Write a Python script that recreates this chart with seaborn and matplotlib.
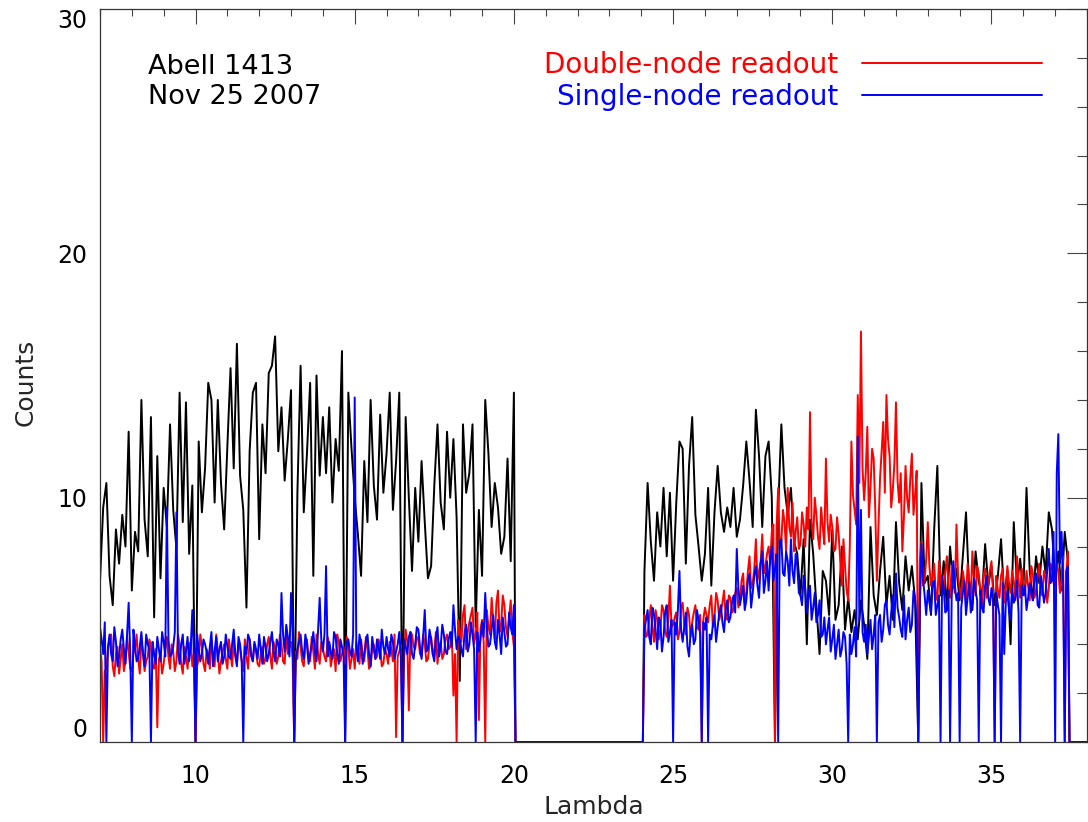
import numpy as np
import pandas as pd
import matplotlib
matplotlib.use("Agg")
import matplotlib.pyplot as plt
from matplotlib.ticker import MultipleLocator
import seaborn as sns

# ---------------- data ----------------
lam_left = np.round(np.arange(7.0, 20.05, 0.1), 2)        # 7.0 .. 20.0
lam_right = np.round(np.arange(24.1, 37.45, 0.1), 2)      # 24.1 .. 37.4
lam_left_mid = np.round(np.arange(7.05, 20.0, 0.1), 2)    # 7.05 .. 19.95
lam_right_mid = np.round(np.arange(24.15, 37.4, 0.1), 2)  # 24.15 .. 37.35
gap_lam = [20.05, 24.05]
gap_counts = [0.0, 0.0]
tail_lam = [37.45, 38.0]
tail_counts = [0.0, 0.0]

black_left = [
    6.6, 9.6, 10.6, 6.8, 5.6, 8.7, 7.3, 9.3, 8.0, 12.7,
    6.2, 8.6, 7.8, 14.0, 9.1, 7.6, 13.3, 5.1, 11.7, 6.7,
    10.4, 8.8, 13.0, 9.5, 7.9, 14.3, 9.0, 13.9, 7.7, 10.5,
    0.0, 12.3, 9.4, 11.2, 14.7, 14.0, 9.8, 14.0, 10.6, 8.7,
    12.1, 15.3, 11.2, 16.3, 10.9, 9.5, 5.5, 11.9, 14.3, 14.7,
    8.3, 13.0, 11.0, 15.1, 15.4, 16.6, 11.9, 13.7, 10.7, 12.4,
    14.4, 0.0, 10.2, 15.4, 9.4, 11.8, 14.7, 6.8, 15.0, 10.9,
    13.3, 11.0, 13.7, 9.8, 12.4, 11.1, 16.0, 0.0, 14.3, 12.0,
    10.0, 8.5, 6.8, 11.5, 9.0, 14.0, 10.5, 9.1, 13.4, 10.2,
    11.8, 14.3, 9.5, 11.5, 14.3, 0.0, 13.3, 10.0, 7.0, 10.4,
    8.2, 11.5, 9.0, 6.7, 7.2, 10.5, 13.0, 9.8, 8.7, 12.7,
    10.0, 12.4, 9.2, 2.5, 13.0, 10.2, 11.0, 13.0, 4.7, 9.5,
    6.8, 14.0, 11.8, 8.8, 10.6, 9.6, 7.7, 8.4, 11.6, 7.4,
    14.3,
]
red_left = [
    3.9, 0.0, 3.0, 4.2, 3.1, 3.6, 2.8, 4.0, 3.3, 3.7,
    2.9, 3.8, 3.4, 4.1, 2.9, 3.5, 3.9, 3.0, 0.6, 3.6,
    3.2, 4.3, 3.0, 3.7, 3.3, 4.0, 2.8, 3.5, 3.9, 3.1,
    0.0, 3.4, 3.9, 2.9, 3.6, 4.2, 3.1, 3.7, 3.3, 4.0,
    3.0, 3.6, 4.1, 3.2, 3.8, 2.9, 3.5, 4.2, 3.3, 3.7,
    3.1, 3.9, 3.4, 4.3, 3.0, 3.8, 3.5, 4.0, 3.2, 3.6,
    4.1, 0.0, 3.4, 3.9, 3.1, 4.2, 3.3, 3.7, 4.4, 3.2,
    3.8, 3.3, 4.0, 3.5, 2.9, 4.1, 3.6, 3.2, 3.9, 3.4,
    3.0, 3.7, 4.2, 3.3, 3.8, 3.1, 4.0, 3.5, 3.9, 3.2,
    3.6, 4.1, 3.3, 0.2, 3.7, 0.0, 4.6, 1.3, 4.4, 3.8,
    4.2, 3.5, 4.0, 3.4, 4.3, 3.7, 3.2, 4.1, 3.6, 4.4,
    3.9, 1.9, 0.0, 4.6, 5.2, 3.8, 4.9, 5.5, 4.4, 0.9,
    5.0, 0.0, 4.7, 5.9, 4.2, 6.2, 4.8, 5.6, 4.3, 5.8,
    3.9,
]
red_left_mid = [
    3.3, 2.9, 3.8, 4.4, 2.7, 3.9, 3.4, 2.9, 4.3, 3.0,
    3.6, 4.4, 2.8, 3.7, 3.3, 4.2, 3.1, 3.8, 3.4, 2.8,
    3.8, 3.5, 4.0, 2.9, 4.4, 3.2, 3.9, 3.0, 4.1, 3.6,
    3.1, 4.4, 3.2, 3.8, 3.0, 3.5, 4.4, 2.8, 3.7, 3.4,
    4.2, 3.1, 3.5, 4.0, 3.3, 4.2, 3.0, 3.6, 4.0, 3.2,
    3.6, 3.2, 4.0, 3.5, 4.1, 3.2, 4.4, 3.3, 4.5, 3.9,
    3.4, 3.7, 4.5, 3.3, 3.9, 3.5, 4.3, 3.0, 3.6, 4.1,
    3.5, 4.3, 3.1, 3.8, 4.4, 3.3, 3.9, 4.3, 3.0, 3.8,
    4.1, 3.2, 3.6, 4.3, 3.0, 3.8, 3.4, 4.2, 3.1, 3.8,
    3.2, 3.8, 4.4, 3.5, 4.0, 3.4, 4.1, 4.5, 3.9, 4.3,
    3.6, 4.4, 3.3, 4.0, 3.6, 4.5, 3.9, 3.4, 4.2, 3.8,
    4.5, 3.6, 5.0, 4.1, 5.6, 4.5, 5.2, 4.0, 5.3, 4.6,
    4.1, 5.4, 4.4, 5.0, 5.7, 4.5, 6.0, 4.7, 5.1, 4.5,
]
blue_left = [
    4.7, 3.6, 0.0, 4.4, 3.3, 4.1, 3.5, 4.6, 3.2, 5.7,
    0.0, 3.9, 3.4, 4.5, 3.1, 4.0, 0.0, 3.6, 4.3, 3.3,
    4.1, 9.6, 3.5, 3.9, 9.4, 3.2, 4.4, 3.7, 3.3, 5.4,
    0.0, 3.8, 3.6, 4.0, 3.2, 4.5, 3.7, 3.3, 4.1, 3.5,
    3.9, 3.4, 4.6, 3.1, 4.0, 0.0, 3.6, 4.2, 3.3, 3.8,
    4.4, 3.2, 3.9, 3.6, 4.5, 3.3, 4.0, 6.1, 3.7, 4.3,
    6.1, 0.0, 3.8, 4.4, 3.4, 4.0, 3.6, 4.5, 3.3, 5.9,
    3.7, 7.2, 4.1, 3.4, 4.3, 3.2, 3.9, 0.0, 4.2, 3.5,
    14.1, 3.3, 4.0, 3.6, 4.4, 3.1, 3.8, 4.2, 3.4, 3.9,
    4.3, 3.5, 4.1, 3.7, 4.5, 0.0, 3.9, 4.3, 3.6, 4.0,
    4.6, 3.4, 5.4, 3.8, 4.2, 3.3, 4.7, 3.9, 4.4, 3.6,
    4.5, 5.6, 3.8, 4.2, 3.5, 4.8, 4.0, 4.4, 0.0, 3.7,
    4.9, 6.1, 3.9, 4.6, 4.1, 5.0, 3.6, 4.5, 4.0, 4.7,
    5.6,
]
blue_left_mid = [
    4.2, 4.9, 3.9, 3.6, 4.7, 3.1, 4.2, 3.8, 4.4, 3.6,
    4.6, 3.3, 3.9, 3.6, 4.4, 3.8, 4.1, 3.2, 3.8, 4.5,
    3.5, 4.2, 3.6, 4.5, 3.7, 4.0, 3.2, 4.3, 3.9, 3.6,
    4.4, 3.3, 4.2, 3.7, 3.9, 3.1, 4.3, 3.8, 3.2, 4.4,
    3.5, 4.0, 3.6, 4.3, 3.3, 3.9, 4.4, 3.5, 4.1, 3.4,
    3.8, 4.3, 3.3, 4.1, 3.7, 4.2, 3.5, 4.4, 4.8, 3.5,
    4.5, 3.4, 4.1, 3.7, 4.4, 3.2, 4.0, 3.7, 4.6, 4.2,
    4.4, 3.5, 3.7, 4.5, 3.6, 4.2, 3.5, 4.1, 3.7, 4.4,
    3.9, 4.4, 3.2, 4.1, 3.6, 4.3, 3.4, 3.9, 4.6, 3.6,
    3.8, 4.4, 3.4, 4.0, 3.5, 4.2, 3.6, 4.5, 3.4, 4.7,
    3.9, 4.3, 3.7, 4.6, 3.6, 4.3, 3.5, 4.8, 3.7, 4.2,
    3.9, 4.6, 4.3, 3.8, 4.5, 3.7, 4.9, 3.8, 4.5, 4.2,
    4.3, 4.7, 4.0, 5.2, 3.8, 4.4, 5.1, 3.9, 5.3, 4.4,
]

black_right = [
    7.0, 10.6, 8.2, 6.6, 9.4, 8.0, 10.4, 7.6, 10.2,
    6.6, 9.8, 12.3, 12.0, 7.3, 11.3, 13.3, 9.3, 8.0, 6.6,
    7.7, 10.4, 6.4, 9.4, 11.3, 9.4, 8.6, 9.6, 8.8, 10.4,
    8.4, 9.1, 10.5, 12.3, 10.7, 8.8, 13.6, 11.7, 8.8, 11.7,
    12.3, 10.0, 0.0, 9.5, 13.0, 10.4, 9.3, 10.4, 8.2, 7.7,
    6.0, 8.3, 4.0, 9.1, 7.7, 5.6, 3.6, 7.0, 6.6, 5.2,
    8.7, 5.0, 5.6, 8.0, 4.6, 5.9, 4.5, 5.4, 4.2, 5.8,
    4.8, 3.4, 8.8, 6.0, 5.2, 7.0, 8.4, 5.6, 6.8, 5.0,
    9.0, 6.5, 5.4, 7.6, 6.2, 7.2, 5.8, 0.0, 10.6, 6.5,
    6.8, 5.2, 8.7, 11.3, 6.0, 7.4, 5.5, 8.0, 6.3, 7.1,
    5.8, 7.6, 9.4, 6.2, 5.4, 7.8, 6.6, 5.9, 8.1, 6.4,
    7.2, 5.6, 6.8, 8.3, 5.9, 7.0, 4.0, 9.0, 6.4, 7.5,
    6.1, 10.4, 7.0, 5.8, 7.6, 6.5, 8.0, 6.9, 9.4, 8.7,
    6.6, 7.8, 6.2, 8.6, 7.4,
]
red_right = [
    5.2, 4.4, 5.6, 4.1, 5.0, 4.6, 5.4, 4.3, 6.4,
    4.8, 5.3, 4.5, 5.7, 4.4, 5.2, 4.9, 5.6, 4.6, 0.0,
    5.5, 4.9, 6.0, 5.1, 5.8, 5.3, 6.2, 5.0, 5.9, 5.4,
    6.3, 5.8, 6.9, 6.1, 7.6, 6.5, 8.3, 7.0, 8.5, 7.2,
    8.0, 8.6, 0.0, 10.4, 8.2, 9.0, 10.4, 8.4, 7.8, 9.2,
    8.1, 8.9, 9.6, 13.5, 8.3, 9.3, 7.9, 8.8, 11.6, 8.2,
    8.8, 7.9, 8.5, 6.4, 7.2, 5.8, 12.3, 9.5, 14.2, 16.8,
    9.9, 12.9, 10.4, 11.6, 6.6, 10.8, 13.1, 14.2, 11.7, 10.3,
    13.9, 9.8, 7.8, 11.3, 9.4, 11.8, 10.1, 0.0, 8.2, 6.6,
    9.0, 6.4, 7.3, 5.8, 6.9, 6.2, 7.6, 5.9, 6.7, 8.9,
    6.3, 7.0, 5.7, 6.6, 7.8, 6.0, 6.9, 5.6, 7.1, 6.4,
    7.4, 0.0, 6.2, 6.8, 5.7, 7.2, 6.1, 6.6, 7.6, 5.9,
    6.5, 7.0, 5.8, 6.9, 6.2, 7.3, 6.0, 6.7, 6.3, 7.1,
    6.4, 7.0, 6.6, 0.0, 7.8,
]
red_right_mid = [
    4.3, 5.0, 4.7, 5.4, 4.2, 5.6, 4.5, 5.0, 4.7,
    5.1, 4.2, 5.5, 4.8, 5.5, 4.3, 5.3, 4.7, 5.2, 5.0,
    5.2, 5.6, 4.7, 6.1, 5.0, 5.7, 5.2, 6.0, 5.3, 6.1,
    5.5, 6.6, 5.7, 7.0, 6.3, 7.1, 6.6, 7.4, 6.9, 7.7,
    7.3, 8.9, 8.8, 8.0, 9.5, 7.8, 8.8, 9.8, 8.6, 7.9,
    9.4, 8.0, 8.7, 9.0, 10.0, 8.4, 9.6, 8.1, 9.0, 9.3,
    7.8, 9.2, 7.4, 8.3, 6.2, 8.0, 10.1, 8.9, 10.6, 11.2,
    11.0, 9.2, 12.0, 9.5, 8.8, 11.9, 10.2, 12.4, 9.6, 11.4,
    10.7, 11.0, 9.2, 10.0, 10.8, 9.3, 11.1, 7.4, 6.4, 7.5,
    7.2, 6.7, 6.1, 7.4, 6.0, 7.0, 6.3, 7.2, 6.1, 6.8,
    5.9, 6.5, 7.3, 5.8, 6.7, 7.2, 6.2, 6.8, 5.9, 7.0,
    6.1, 6.8, 5.9, 7.1, 6.3, 6.5, 7.0, 5.8, 6.6, 7.1,
    6.0, 6.4, 7.2, 5.9, 6.8, 6.1, 7.0, 5.7, 7.3, 6.5,
    7.3, 6.1, 7.6, 6.9,
]
blue_right = [
    4.6, 5.4, 4.0, 5.2, 3.8, 4.9, 4.3, 5.6, 4.5,
    0.0, 4.4, 7.0, 4.1, 5.3, 3.5, 4.8, 4.2, 5.0, 0.0,
    4.6, 0.0, 4.2, 5.2, 4.7, 5.6, 4.5, 5.8, 5.1, 6.0,
    7.9, 5.6, 6.4, 5.8, 6.9, 6.1, 7.2, 5.9, 7.8, 6.6,
    6.2, 8.0, 7.1, 0.0, 8.3, 6.8, 7.4, 8.3, 6.5, 7.2,
    6.0, 6.8, 5.3, 6.4, 5.5, 4.9, 5.8, 4.4, 4.0, 5.1,
    4.2, 3.4, 4.6, 3.8, 4.3, 0.0, 3.6, 4.7, 12.5, 9.5,
    4.1, 3.6, 5.0, 4.4, 0.0, 5.2, 4.6, 5.8, 4.4, 6.0,
    6.9, 5.1, 4.3, 4.2, 5.5, 4.8, 5.9, 0.0, 8.1, 6.0,
    6.2, 5.3, 6.6, 5.6, 0.0, 6.3, 5.4, 0.0, 7.4, 5.8,
    0.0, 6.1, 5.2, 6.5, 5.7, 6.2, 0.0, 5.5, 6.4, 5.9,
    6.3, 0.0, 5.6, 0.0, 3.6, 6.2, 5.0, 5.7, 6.6, 0.0,
    6.0, 5.4, 6.5, 5.8, 6.9, 5.5, 6.3, 6.1, 7.9, 6.6,
    0.0, 12.6, 8.6, 0.0, 7.2,
]
blue_right_mid = [
    5.0, 4.3, 5.5, 4.6, 5.1, 3.7, 5.3, 4.1, 5.0,
    4.9, 5.4, 4.6, 4.7, 3.9, 4.5, 4.0, 5.4, 4.4, 4.9,
    5.1, 4.4, 4.8, 4.1, 5.3, 4.9, 5.4, 4.9, 5.7, 5.3,
    6.3, 6.0, 5.4, 6.6, 5.5, 6.8, 6.4, 7.3, 6.1, 7.4,
    7.5, 6.6, 7.7, 8.2, 6.9, 7.8, 6.4, 7.0, 7.7, 6.1,
    5.6, 6.3, 5.9, 5.0, 6.1, 5.2, 4.3, 5.1, 4.6, 3.7,
    4.8, 4.0, 3.5, 4.5, 3.2, 4.4, 4.0, 3.5, 5.0, 4.5,
    4.8, 4.3, 3.8, 5.2, 4.9, 4.1, 5.6, 4.8, 5.3, 4.7,
    5.5, 4.6, 6.0, 5.0, 4.5, 6.2, 5.0, 5.6, 6.7, 5.2,
    5.7, 6.5, 5.2, 6.0, 6.8, 5.3, 6.2, 5.9, 6.4, 6.1,
    5.5, 6.6, 5.9, 5.3, 6.7, 5.8, 6.2, 5.3, 6.8, 5.6,
    5.8, 6.1, 5.2, 6.5, 5.7, 5.4, 6.3, 5.9, 5.3, 6.4,
    6.4, 5.9, 6.1, 6.7, 5.6, 6.8, 5.7, 7.0, 6.5, 8.6,
    11.0, 7.3, 6.5, 7.0,
]

series_names = ["Abell 1413", "Double-node readout", "Single-node readout"]
series_colors = ["black", "#ff0000", "#0000ff"]

x_ticks = [10, 15, 20, 25, 30, 35]
y_ticks = [0, 10, 20, 30]


def full(left, right, left_mid=None, right_mid=None):
    assert len(left) == len(lam_left), (len(left), len(lam_left))
    assert len(right) == len(lam_right), (len(right), len(lam_right))
    xs = [lam_left, gap_lam, lam_right, tail_lam]
    ys = [left, gap_counts, right, tail_counts]
    if left_mid is not None:
        assert len(left_mid) == len(lam_left_mid), (len(left_mid), len(lam_left_mid))
        assert len(right_mid) == len(lam_right_mid), (len(right_mid), len(lam_right_mid))
        xs += [lam_left_mid, lam_right_mid]
        ys += [left_mid, right_mid]
    x = np.concatenate(xs)
    y = np.concatenate(ys)
    order = np.argsort(x, kind="stable")
    return x[order], y[order]


frames = []
for name, parts in zip(series_names, [(black_left, black_right),
                                       (red_left, red_right, red_left_mid, red_right_mid),
                                       (blue_left, blue_right, blue_left_mid, blue_right_mid)]):
    x, y = full(*parts)
    frames.append(pd.DataFrame({"Lambda": x, "Counts": y, "series": name}))
df = pd.concat(frames, ignore_index=True)

# ---------------- figure ----------------
sns.set_style("white")
plt.rcParams["font.family"] = ["DejaVu Sans"]

fig = plt.figure(figsize=(10.88, 8.22), dpi=100)
ax = fig.add_axes([100 / 1088, 80 / 822, 987 / 1088, 733 / 822])

for name, color in zip(series_names, series_colors):
    sub = df[df["series"] == name]
    sns.lineplot(data=sub, x="Lambda", y="Counts", ax=ax, color=color,
                 linewidth=1.4, estimator=None, sort=False,
                 label=None if name == "Abell 1413" else name)

ax.set_xlim(7, 38)
ax.set_ylim(0, 30)
ax.set_xticks(x_ticks)
ax.set_yticks(y_ticks)
ax.xaxis.set_minor_locator(MultipleLocator(1))
ax.yaxis.set_minor_locator(MultipleLocator(2))

for sp in ax.spines.values():
    sp.set_color("#333333")
    sp.set_linewidth(0.9)

ax.tick_params(axis="both", which="both", direction="in", top=True, right=True,
               colors="#444444", labelcolor="black", width=0.8)
ax.tick_params(axis="x", which="major", length=10.8, labelsize=17, pad=16)
ax.tick_params(axis="x", which="minor", length=5.0)
ax.tick_params(axis="y", which="major", length=14.4, labelsize=17, pad=9)
ax.tick_params(axis="y", which="minor", length=7.2)

# keep the end labels inside the axis range, like the original
yt = ax.yaxis.get_major_ticks()
yt[0].label1.set_verticalalignment("bottom")
yt[-1].label1.set_verticalalignment("top")

ax.set_xlabel("Lambda", fontsize=18)
ax.set_ylabel("Counts", fontsize=18)
ax.xaxis.set_label_coords(0.5, -0.072)
ax.yaxis.set_label_coords(-0.063, 0.49)

ax.text(0.0486, 0.912, "Abell 1413", transform=ax.transAxes, fontsize=19.5,
        va="baseline", ha="left", color="black")
ax.text(0.0486, 0.871, "Nov 25 2007", transform=ax.transAxes, fontsize=19.5,
        va="baseline", ha="left", color="black")

handles, labels = ax.get_legend_handles_labels()
ax.legend(handles, labels, loc="center right", bbox_to_anchor=(0.9544, 0.902),
          frameon=False, markerfirst=False, labelcolor="linecolor",
          fontsize=20, handlelength=6.47, handletextpad=0.86,
          labelspacing=0.12, borderpad=0.0, borderaxespad=0.0)

fig.savefig("out.png", dpi=100)
